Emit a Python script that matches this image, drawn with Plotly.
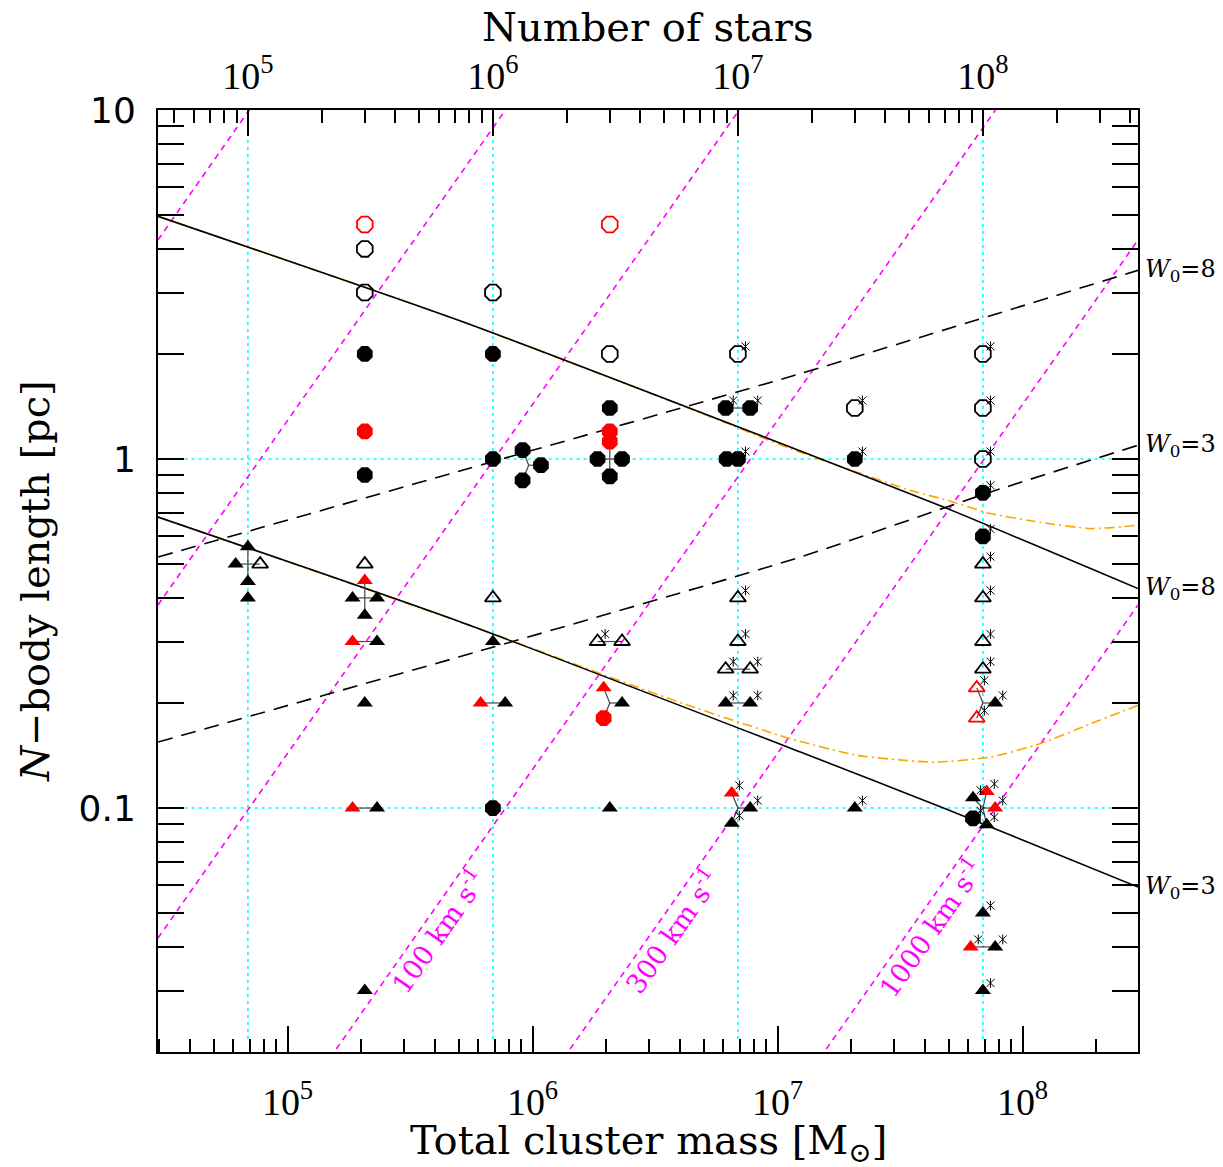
import numpy as np
import plotly.graph_objects as go

# ---------------- constants ----------------
MEAN_STAR_MASS = 0.689      # Msun per star (M = 0.689 N), links bottom and top axes
G_PC = 4.30e-3              # pc (km/s)^2 / Msun
VIRIAL_FACTOR = 0.3         # constant-velocity guides: r = 0.3 G M / v^2
SPREAD_DEX = 0.05           # displacement of coincident simulations (dex)
STAR_DX, STAR_DY = 0.031, 0.0215   # asterisk offset (dex)

# ---------------- axes ----------------
mass_range = [2.96e4, 2.96e8]
length_range = [0.02, 10.0]
mass_tick_vals = [1e5, 1e6, 1e7, 1e8]
mass_tick_text = ["10<sup>5</sup>", "10<sup>6</sup>", "10<sup>7</sup>", "10<sup>8</sup>"]
nstar_tick_vals = [1e5, 1e6, 1e7, 1e8]
nstar_tick_text = ["10<sup>5</sup>", "10<sup>6</sup>", "10<sup>7</sup>", "10<sup>8</sup>"]
length_tick_vals = [0.1, 1, 10]
length_tick_text = ["0.1", "1", "10"]

# cyan reference grid
grid_nstars = [1e5, 1e6, 1e7, 1e8]
grid_lengths = [0.1, 1.0]

# constant velocity guides (km/s)
guide_velocities = [3, 10, 30, 100, 300, 1000]
label_velocities = [100, 300, 1000]
label_lengths = [0.0446, 0.0446, 0.0455]
label_texts = ["100 km s<sup>-1</sup>", "300 km s<sup>-1</sup>", "1000 km s<sup>-1</sup>"]

# ---------------- model curves ----------------
w8_solid_mass = [2.96e4, 4.99e5, 1.24e7, 4.93e7, 2.96e8]
w8_solid_len = [4.96, 2.497, 1.054, 0.721, 0.4253]
w3_solid_mass = [2.96e4, 4.99e5, 1.24e7, 4.93e7, 2.96e8]
w3_solid_len = [0.682, 0.3428, 0.1447, 0.0991, 0.0594]
w8_dash_mass = [2.96e4, 4.62e5, 1.24e7, 2.96e8]
w8_dash_len = [0.5238, 0.908, 1.757, 3.473]
w3_dash_mass = [2.96e4, 4.99e5, 1.24e7, 7.40e7, 2.96e8]
w3_dash_len = [0.1546, 0.2708, 0.5238, 0.804, 1.095]
orange_hi_mass = [2.96e4, 4.99e5, 4.85e6, 1.13e7, 3.49e7, 4.93e7, 7.40e7, 1.18e8, 1.90e8, 2.96e8]
orange_hi_len = [4.96, 2.497, 1.357, 1.071, 0.813, 0.762, 0.698, 0.659, 0.632, 0.646]
orange_lo_mass = [2.96e4, 4.99e5, 1.90e6, 4.13e6, 1.13e7, 2.12e7, 4.35e7, 7.40e7, 1.18e8, 1.90e8, 2.96e8]
orange_lo_len = [0.682, 0.3428, 0.2424, 0.1991, 0.158, 0.1416, 0.1354, 0.140, 0.1529, 0.1745, 0.1969]

right_labels = ["<i>W</i><sub>0</sub>=8", "<i>W</i><sub>0</sub>=3", "<i>W</i><sub>0</sub>=8", "<i>W</i><sub>0</sub>=3"]

# ---------------- simulations ----------------
# code: c = circle, t = triangle, o = open, r = red, * = asterisk
col_nstar = [1e5, 3e5, 1e6, 1.4e6, 3e6, 9e6, 1e7, 3e7, 1e8]
len_1e5 = [0.5, 0.5, 0.5, 0.5, 0.4]
code_1e5 = ["to", "t", "t", "t", "t"]
len_3e5 = [4.7, 4.0, 3.0, 2.0, 1.2, 0.9, 0.5, 0.4, 0.4, 0.4, 0.4, 0.3, 0.3, 0.2, 0.1, 0.1, 0.03]
code_3e5 = ["cor", "co", "co", "c", "cr", "c", "to", "t", "tr", "t", "t", "t", "tr", "t", "t", "tr", "t"]
len_1e6 = [3.0, 2.0, 1.0, 0.4, 0.3, 0.2, 0.2, 0.1]
code_1e6 = ["co", "c", "c", "to", "t", "t", "tr", "c"]
len_1p4e6 = [0.96, 0.96, 0.96]
code_1p4e6 = ["c", "c", "c"]
len_3e6 = [4.7, 2.0, 1.4, 1.2, 1.0, 1.0, 1.0, 1.0, 0.3, 0.3, 0.2, 0.2, 0.2, 0.1]
code_3e6 = ["cor", "co", "c", "cr", "c", "cr", "c", "c", "to", "to*", "t", "tr", "cr", "t"]
len_9e6 = [1.0]
code_9e6 = ["c"]
len_1e7 = [2.0, 1.4, 1.4, 1.0, 0.4, 0.3, 0.25, 0.25, 0.2, 0.2, 0.1, 0.1, 0.1]
code_1e7 = ["co*", "c*", "c*", "c*", "to*", "to*", "to*", "to*", "t*", "t*", "t*", "tr*", "t*"]
len_3e7 = [1.4, 1.0, 0.1]
code_3e7 = ["co*", "c*", "t*"]
len_1e8 = [2.0, 1.4, 1.0, 0.8, 0.6, 0.5, 0.4, 0.3, 0.25, 0.2, 0.2, 0.2,
           0.1, 0.1, 0.1, 0.1, 0.1, 0.05, 0.04, 0.04, 0.03]
code_1e8 = ["co*", "co*", "co*", "c*", "c*", "to*", "to*", "to*", "to*", "t*", "tor*", "tor*",
            "tr*", "tr*", "t*", "c*", "t*", "t*", "t*", "tr*", "t*"]

col_lengths = [len_1e5, len_3e5, len_1e6, len_1p4e6, len_3e6, len_9e6, len_1e7, len_3e7, len_1e8]
col_codes = [code_1e5, code_3e5, code_1e6, code_1p4e6, code_3e6, code_9e6, code_1e7, code_3e7, code_1e8]

# ---------------- build figure ----------------
fig = go.Figure()
NOHOVER = dict(hoverinfo="skip", showlegend=False)

# cyan grid
gx, gy = [], []
for n in grid_nstars:
    m = n * MEAN_STAR_MASS
    gx += [m, m, None]
    gy += [0.0218, 8.37, None]
for r in grid_lengths:
    gx += [3.8e4, 2.32e8, None]
    gy += [r, r, None]
fig.add_trace(go.Scatter(x=gx, y=gy, mode="lines",
                         line=dict(color="#00ffff", width=1.6, dash="3px,4px"), **NOHOVER))

# magenta constant-velocity guides
kG = VIRIAL_FACTOR * G_PC
vx, vy = [], []
for v in guide_velocities:
    m_lo = max(mass_range[0], 0.01 * v**2 / kG)
    m_hi = min(mass_range[1], 20.0 * v**2 / kG)
    vx += [m_lo, m_hi, None]
    vy += [kG * m_lo / v**2, kG * m_hi / v**2, None]
fig.add_trace(go.Scatter(x=vx, y=vy, mode="lines",
                         line=dict(color="#ff00ff", width=1.6, dash="6px,5px"), **NOHOVER))

# orange curves
for mm, rr in [(orange_hi_mass, orange_hi_len), (orange_lo_mass, orange_lo_len)]:
    fig.add_trace(go.Scatter(x=mm, y=rr, mode="lines",
                             line=dict(color="#ffa500", width=1.6, dash="10px,4px,2px,4px",
                                       shape="spline", smoothing=0.6), **NOHOVER))
# dashed black
for mm, rr in [(w8_dash_mass, w8_dash_len), (w3_dash_mass, w3_dash_len)]:
    fig.add_trace(go.Scatter(x=mm, y=rr, mode="lines",
                             line=dict(color="black", width=1.6, dash="15px,9px",
                                       shape="spline", smoothing=0.6), **NOHOVER))
# solid black
for mm, rr in [(w8_solid_mass, w8_solid_len), (w3_solid_mass, w3_solid_len)]:
    fig.add_trace(go.Scatter(x=mm, y=rr, mode="lines",
                             line=dict(color="black", width=1.6, shape="spline", smoothing=0.6),
                             **NOHOVER))

# simulations: group coincident runs and spread them around the true position
spider_x, spider_y = [], []
groups_marks = {}
star_x, star_y = [], []
for n, lens, codes in zip(col_nstar, col_lengths, col_codes):
    groups = {}
    for r, c in zip(lens, codes):
        groups.setdefault(r, []).append(c)
    lm0 = np.log10(n * MEAN_STAR_MASS)
    for r, members in groups.items():
        lr0 = np.log10(r)
        k = len(members)
        for i, c in enumerate(members):
            if k > 1:
                th = 2 * np.pi * i / k
                dx, dy = SPREAD_DEX * np.cos(th), SPREAD_DEX * np.sin(th)
                spider_x += [10**lm0, 10**(lm0 + dx), None]
                spider_y += [10**lr0, 10**(lr0 + dy), None]
            else:
                dx = dy = 0.0
            key = (c[0], "o" in c, "r" in c)
            groups_marks.setdefault(key, ([], []))
            groups_marks[key][0].append(10**(lm0 + dx))
            groups_marks[key][1].append(10**(lr0 + dy))
            if "*" in c:
                star_x.append(10**(lm0 + dx + STAR_DX))
                star_y.append(10**(lr0 + dy + STAR_DY))

fig.add_trace(go.Scatter(x=spider_x, y=spider_y, mode="lines",
                         line=dict(color="#444444", width=1.2), **NOHOVER))

for (shape, is_open, is_red), (xs, ys) in groups_marks.items():
    col = "red" if is_red else "black"
    if shape == "c":
        sym, size = "octagon", 17
    else:
        sym, size = "triangle-up", 14
    if is_open:
        sym += "-open"
    fig.add_trace(go.Scatter(x=xs, y=ys, mode="markers",
                             marker=dict(symbol=sym, size=size, color=col,
                                         line=dict(width=1.8 if is_open else 0, color=col)),
                             **NOHOVER))

for sym, size in [("x-thin-open", 8), ("line-ns-open", 7)]:
    fig.add_trace(go.Scatter(x=star_x, y=star_y, mode="markers",
                             marker=dict(symbol=sym, size=size, color="black",
                                         line=dict(width=1, color="black")), **NOHOVER))

# dummy trace to activate the top (number of stars) axis
fig.add_trace(go.Scatter(x=[1e6], y=[1.0], xaxis="x2", mode="markers",
                         marker=dict(opacity=0), **NOHOVER))

# ---------------- axes ----------------
def minor_vals(lo, hi):
    out = []
    for e in range(int(np.floor(np.log10(lo))) - 1, int(np.ceil(np.log10(hi))) + 1):
        for d in range(2, 10):
            v = d * 10.0**e
            if lo <= v <= hi:
                out.append(v)
    return out

common = dict(type="log", showgrid=False, zeroline=False, showline=True,
              linecolor="black", linewidth=2, ticks="inside", ticklen=26,
              tickwidth=1.5, tickcolor="black", tickmode="array")
minor_common = dict(ticks="inside", ticklen=13, tickwidth=1.5, tickcolor="black", showgrid=False)
nrange = [mass_range[0] / MEAN_STAR_MASS, mass_range[1] / MEAN_STAR_MASS]

# page body adds an 8 px margin, so the figure is drawn 8 px smaller and offset
fig.update_layout(
    width=1215, height=1159,
    margin=dict(l=150, r=85, t=102, b=115),
    paper_bgcolor="white", plot_bgcolor="white",
    font=dict(family="DejaVu Serif", color="black"),
    xaxis=dict(**common, range=[np.log10(mass_range[0]), np.log10(mass_range[1])],
               tickvals=mass_tick_vals, ticktext=mass_tick_text,
               tickfont=dict(family="Liberation Serif", size=38, color="black"),
               ticklabelstandoff=15, mirror=False, anchor="y",
               minor=dict(**minor_common, tickvals=minor_vals(*mass_range))),
    xaxis2=dict(**common, range=[np.log10(nrange[0]), np.log10(nrange[1])],
                overlaying="x", side="top", anchor="y",
                tickvals=nstar_tick_vals, ticktext=nstar_tick_text,
                tickfont=dict(family="Liberation Serif", size=38, color="black"),
                ticklabelstandoff=4,
                minor=dict(**minor_common, tickvals=minor_vals(*nrange))),
    yaxis=dict(**common, range=[np.log10(length_range[0]), np.log10(length_range[1])],
               tickvals=length_tick_vals, ticktext=length_tick_text,
               tickfont=dict(family="DejaVu Sans", size=36, color="black"),
               ticklabelstandoff=13, mirror="allticks",
               minor=dict(**minor_common, tickvals=minor_vals(*length_range))),
)

# ---------------- annotations ----------------
ann = []
title_font = dict(family="DejaVu Serif", size=40, color="black")
ann.append(dict(text="Total cluster mass [M<sub>⊙</sub>]", xref="paper", yref="paper",
                x=0.5, y=0, yshift=-91, showarrow=False, font=title_font,
                xanchor="center", yanchor="middle"))
ann.append(dict(text="Number of stars", xref="paper", yref="paper",
                x=0.5, y=1, yshift=83, showarrow=False, font=title_font,
                xanchor="center", yanchor="middle"))
ann.append(dict(text="<i>N</i>−body length [pc]", xref="paper", yref="paper",
                x=0, y=0.5, xshift=-123, showarrow=False, font=title_font, textangle=-90,
                xanchor="center", yanchor="middle"))

ends = [w8_dash_len[-1], w3_dash_len[-1], w8_solid_len[-1], w3_solid_len[-1]]
for txt, r in zip(right_labels, ends):
    ann.append(dict(text=txt, xref="paper", yref="y", x=1, y=np.log10(r), xshift=5,
                    showarrow=False, xanchor="left", yanchor="middle",
                    font=dict(family="DejaVu Serif", size=24, color="black")))

px_per_dex_x = 980 / np.log10(mass_range[1] / mass_range[0])
px_per_dex_y = 942 / np.log10(length_range[1] / length_range[0])
angle = -np.degrees(np.arctan2(px_per_dex_y, px_per_dex_x))
for v, r, txt in zip(label_velocities, label_lengths, label_texts):
    m = r * v**2 / kG
    ann.append(dict(text=txt, xref="x", yref="y", x=np.log10(m), y=np.log10(r),
                    xshift=18, showarrow=False, textangle=angle,
                    xanchor="center", yanchor="middle",
                    font=dict(family="DejaVu Serif", size=27, color="#ff00ff")))

fig.update_layout(annotations=ann)
fig.write_html("out.html")
